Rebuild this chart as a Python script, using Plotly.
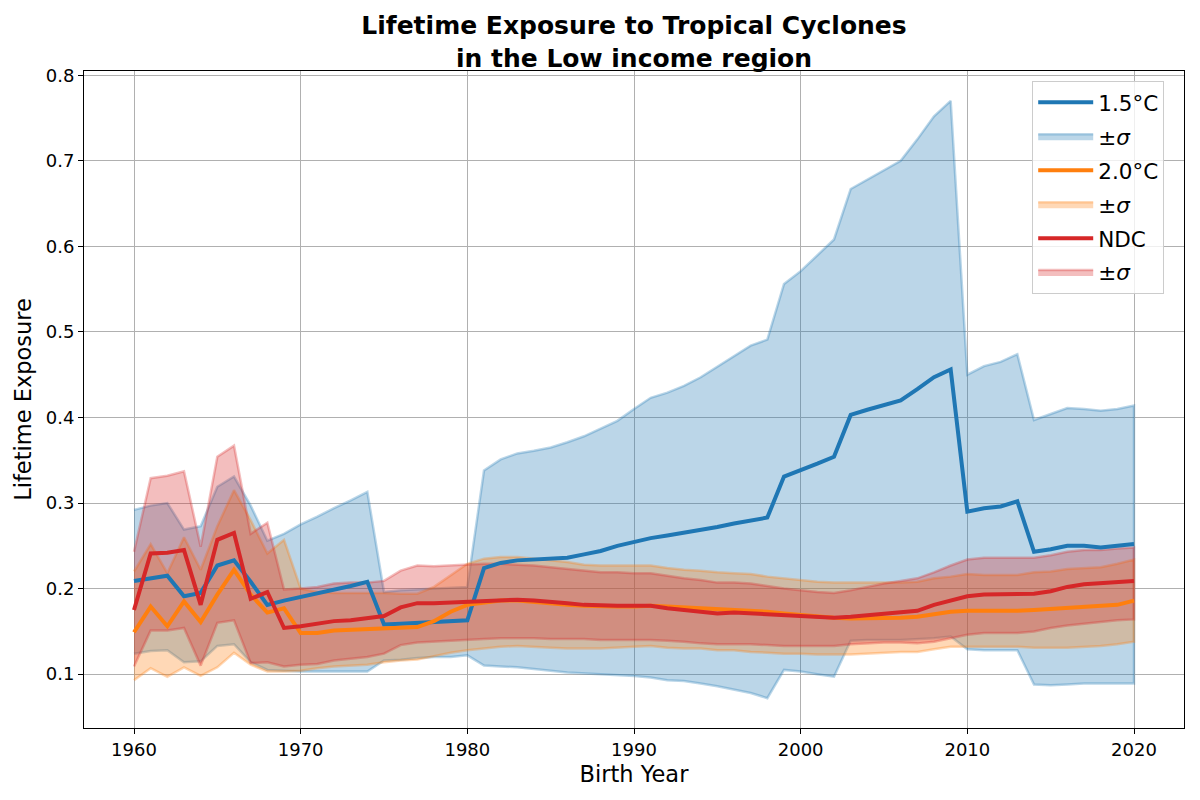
import plotly.graph_objects as go

years = list(range(1960, 2021))

b_mean = [0.209, 0.212, 0.215, 0.191, 0.195, 0.227, 0.233, 0.208, 0.181, 0.186,
          0.190, 0.194, 0.199, 0.203, 0.208, 0.158, 0.159, 0.160, 0.161, 0.162,
          0.163, 0.224, 0.230, 0.233, 0.234, 0.234, 0.236, 0.240, 0.244, 0.250,
          0.255, 0.259, 0.262, 0.265, 0.269, 0.272, 0.276, 0.280, 0.283, 0.331,
          0.338, 0.346, 0.354, 0.403, 0.409, 0.415, 0.420, 0.433, 0.447, 0.456,
          0.290, 0.294, 0.296, 0.302, 0.243, 0.246, 0.250, 0.250, 0.248, 0.250,
          0.252]
b_upper = [0.292, 0.297, 0.300, 0.269, 0.273, 0.319, 0.331, 0.297, 0.256, 0.264,
           0.275, 0.284, 0.294, 0.303, 0.313, 0.196, 0.198, 0.199, 0.200, 0.201,
           0.202, 0.338, 0.351, 0.358, 0.361, 0.365, 0.371, 0.378, 0.387, 0.396,
           0.410, 0.423, 0.429, 0.437, 0.447, 0.459, 0.472, 0.484, 0.491, 0.556,
           0.571, 0.590, 0.608, 0.667, 0.678, 0.690, 0.700, 0.725, 0.752, 0.770,
           0.450, 0.460, 0.465, 0.474, 0.397, 0.404, 0.411, 0.410, 0.408, 0.410,
           0.414]
b_lower = [0.124, 0.127, 0.128, 0.114, 0.115, 0.133, 0.135, 0.114, 0.105, 0.104,
           0.103, 0.103, 0.103, 0.103, 0.103, 0.116, 0.117, 0.119, 0.120, 0.120,
           0.122, 0.110, 0.109, 0.108, 0.106, 0.104, 0.102, 0.101, 0.100, 0.099,
           0.098, 0.096, 0.093, 0.092, 0.089, 0.086, 0.082, 0.078, 0.072, 0.105,
           0.103, 0.100, 0.097, 0.139, 0.140, 0.140, 0.140, 0.141, 0.142, 0.144,
           0.129, 0.128, 0.128, 0.128, 0.088, 0.087, 0.088, 0.089, 0.089, 0.089,
           0.089]

o_mean = [0.149, 0.179, 0.156, 0.185, 0.161, 0.193, 0.222, 0.193, 0.172, 0.177,
          0.148, 0.148, 0.151, 0.152, 0.153, 0.153, 0.154, 0.155, 0.162, 0.173,
          0.181, 0.184, 0.186, 0.186, 0.184, 0.182, 0.181, 0.180, 0.179, 0.179,
          0.179, 0.180, 0.179, 0.178, 0.177, 0.176, 0.176, 0.175, 0.173, 0.171,
          0.169, 0.167, 0.166, 0.165, 0.165, 0.166, 0.166, 0.167, 0.170, 0.173,
          0.174, 0.174, 0.173, 0.174, 0.175, 0.176, 0.177, 0.178, 0.179, 0.181,
          0.186]
o_upper = [0.220, 0.252, 0.218, 0.260, 0.222, 0.273, 0.315, 0.280, 0.241, 0.257,
           0.200, 0.196, 0.195, 0.195, 0.195, 0.195, 0.194, 0.194, 0.202, 0.216,
           0.229, 0.235, 0.237, 0.237, 0.235, 0.233, 0.231, 0.228, 0.227, 0.227,
           0.227, 0.227, 0.224, 0.222, 0.221, 0.219, 0.218, 0.217, 0.214, 0.212,
           0.210, 0.208, 0.207, 0.207, 0.207, 0.207, 0.207, 0.208, 0.212, 0.214,
           0.217, 0.216, 0.216, 0.216, 0.219, 0.220, 0.223, 0.224, 0.225, 0.229,
           0.234]
o_lower = [0.093, 0.107, 0.097, 0.108, 0.098, 0.108, 0.125, 0.111, 0.103, 0.103,
           0.104, 0.107, 0.109, 0.110, 0.111, 0.114, 0.116, 0.117, 0.121, 0.125,
           0.128, 0.130, 0.132, 0.133, 0.132, 0.131, 0.130, 0.130, 0.130, 0.131,
           0.132, 0.133, 0.131, 0.130, 0.130, 0.128, 0.128, 0.126, 0.125, 0.124,
           0.124, 0.123, 0.123, 0.123, 0.124, 0.125, 0.126, 0.126, 0.129, 0.132,
           0.132, 0.132, 0.132, 0.132, 0.131, 0.131, 0.131, 0.132, 0.133, 0.135,
           0.138]

r_mean = [0.175, 0.241, 0.242, 0.245, 0.181, 0.257, 0.265, 0.188, 0.196, 0.154,
          0.156, 0.159, 0.162, 0.163, 0.165, 0.168, 0.178, 0.183, 0.183, 0.184,
          0.185, 0.186, 0.187, 0.187, 0.186, 0.185, 0.183, 0.181, 0.180, 0.180,
          0.180, 0.180, 0.177, 0.175, 0.173, 0.171, 0.172, 0.171, 0.169, 0.168,
          0.167, 0.166, 0.166, 0.167, 0.169, 0.171, 0.172, 0.174, 0.181, 0.186,
          0.191, 0.193, 0.193, 0.193, 0.194, 0.197, 0.202, 0.205, 0.206, 0.208,
          0.209]
r_upper = [0.243, 0.329, 0.332, 0.337, 0.249, 0.354, 0.367, 0.264, 0.277, 0.199,
           0.200, 0.202, 0.206, 0.207, 0.207, 0.209, 0.221, 0.227, 0.226, 0.227,
           0.228, 0.229, 0.229, 0.228, 0.227, 0.225, 0.223, 0.221, 0.219, 0.219,
           0.218, 0.218, 0.215, 0.212, 0.210, 0.207, 0.207, 0.206, 0.203, 0.200,
           0.198, 0.196, 0.195, 0.198, 0.202, 0.206, 0.209, 0.212, 0.219, 0.227,
           0.234, 0.236, 0.236, 0.236, 0.236, 0.239, 0.243, 0.245, 0.245, 0.247,
           0.248]
r_lower = [0.109, 0.151, 0.151, 0.154, 0.110, 0.160, 0.163, 0.113, 0.114, 0.109,
           0.111, 0.112, 0.116, 0.118, 0.120, 0.124, 0.134, 0.137, 0.138, 0.139,
           0.140, 0.141, 0.142, 0.142, 0.142, 0.141, 0.141, 0.141, 0.140, 0.140,
           0.140, 0.140, 0.139, 0.138, 0.136, 0.135, 0.135, 0.135, 0.134, 0.133,
           0.133, 0.133, 0.133, 0.135, 0.136, 0.137, 0.137, 0.136, 0.138, 0.142,
           0.146, 0.148, 0.148, 0.148, 0.150, 0.154, 0.157, 0.159, 0.161, 0.163,
           0.164]

series_names = ["1.5°C", "2.0°C", "NDC"]
band_name = "±<i>σ</i>"
colors = [(31, 119, 180), (255, 127, 14), (214, 39, 40)]

FONT = "DejaVu Sans"
fig = go.Figure()

groups = [(b_mean, b_upper, b_lower), (o_mean, o_upper, o_lower), (r_mean, r_upper, r_lower)]

# bands first
for i, (m, up, lo) in enumerate(groups):
    c = colors[i]
    fig.add_trace(go.Scatter(
        x=years + years[::-1], y=up + lo[::-1],
        mode="lines", fill="toself",
        fillcolor=f"rgba({c[0]},{c[1]},{c[2]},0.3)",
        line=dict(color=f"rgba({c[0]},{c[1]},{c[2]},0.3)", width=2.5),
        name=band_name, legendrank=2 * i + 2, legendgroup=f"b{i}",
        hoverinfo="skip"))
# mean lines on top
for i, (m, up, lo) in enumerate(groups):
    c = colors[i]
    fig.add_trace(go.Scatter(
        x=years, y=m, mode="lines",
        line=dict(color=f"rgb({c[0]},{c[1]},{c[2]})", width=4),
        name=series_names[i], legendrank=2 * i + 1, legendgroup=f"m{i}"))

all_lo = min(b_lower + o_lower + r_lower)
all_hi = max(b_upper + o_upper + r_upper)
pad = 0.05 * (all_hi - all_lo)
xpad = 0.05 * (years[-1] - years[0])

axis_common = dict(
    showgrid=True, gridcolor="#b0b0b0", gridwidth=1,
    showline=True, linecolor="black", linewidth=1, mirror=True,
    ticks="outside", ticklen=5, tickwidth=1, tickcolor="black",
    tickfont=dict(family=FONT, size=18, color="black"),
    zeroline=False,
)

fig.update_layout(
    width=1192, height=792,
    margin=dict(l=76, r=16, t=63, b=72),
    plot_bgcolor="white", paper_bgcolor="white",
    font=dict(family=FONT, color="black"),
    title=dict(
        text="<b>Lifetime Exposure to Tropical Cyclones<br>in the Low income region</b>",
        x=0.5, xref="paper", xanchor="center",
        y=0.967, yref="container", yanchor="top",
        font=dict(family=FONT, size=25, color="black")),
    xaxis=dict(range=[years[0] - xpad, years[-1] + xpad], dtick=10, tick0=1960,
               title=dict(text="Birth Year", font=dict(family=FONT, size=22.5), standoff=7),
               **axis_common),
    yaxis=dict(range=[all_lo - pad, all_hi + pad], dtick=0.1, tick0=0.1, tickformat=".1f",
               title=dict(text="Lifetime Exposure", font=dict(family=FONT, size=22.5), standoff=7),
               **axis_common),
    legend=dict(
        x=0.862, y=0.985, xanchor="left", yanchor="top",
        bgcolor="rgba(255,255,255,0.8)", bordercolor="#cccccc", borderwidth=1,
        font=dict(family=FONT, size=21.5, color="black"),
        itemwidth=55, tracegroupgap=3),
    showlegend=True,
)

fig.write_html("out.html")
